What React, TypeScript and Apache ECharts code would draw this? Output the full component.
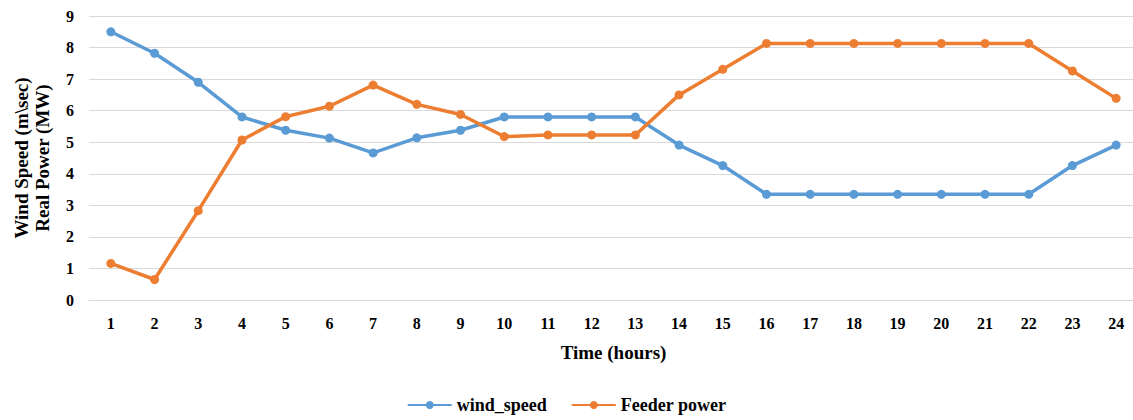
import React, { useEffect, useRef } from "react";
import * as echarts from "echarts";

const hours: string[] = [
  "1", "2", "3", "4", "5", "6", "7", "8", "9", "10", "11", "12",
  "13", "14", "15", "16", "17", "18", "19", "20", "21", "22", "23", "24",
];

const windSpeed: number[] = [
  8.5, 7.82, 6.9, 5.8, 5.38, 5.13, 4.66, 5.14, 5.38, 5.8, 5.8, 5.8,
  5.8, 4.91, 4.26, 3.35, 3.35, 3.35, 3.35, 3.35, 3.35, 3.35, 4.26, 4.91,
];

const feederPower: number[] = [
  1.16, 0.65, 2.83, 5.07, 5.81, 6.14, 6.81, 6.2, 5.88, 5.18, 5.23, 5.23,
  5.23, 6.5, 7.31, 8.13, 8.13, 8.13, 8.13, 8.13, 8.13, 8.13, 7.26, 6.39,
];

const yTicks: number[] = [0, 1, 2, 3, 4, 5, 6, 7, 8, 9];

const FONT = "'Liberation Serif', 'Times New Roman', serif";

export default function App() {
  const ref = useRef<HTMLDivElement>(null);

  useEffect(() => {
    if (!ref.current) return;
    const chart = echarts.init(ref.current, undefined, { renderer: "svg" });
    chart.setOption({
      animation: false,
      backgroundColor: "#ffffff",
      textStyle: { fontFamily: FONT },
      grid: {
        left: 89,
        right: -5,
        top: 16,
        bottom: 120,
        containLabel: false,
        outerBoundsMode: "none",
      },
      legend: {
        bottom: 1,
        left: "center",
        itemWidth: 44,
        itemHeight: 10,
        itemGap: 24,
        textStyle: { fontFamily: FONT, fontWeight: "bold", fontSize: 18, color: "#000" },
        data: ["wind_speed", "Feeder power"],
      },
      xAxis: {
        type: "category",
        data: hours,
        boundaryGap: true,
        name: "Time (hours)",
        nameLocation: "middle",
        nameGap: 43,
        nameTextStyle: { fontFamily: FONT, fontWeight: "bold", fontSize: 19, color: "#000" },
        axisLine: { show: true, lineStyle: { color: "#d9d9d9", width: 1 } },
        axisTick: { show: false },
        axisLabel: { fontFamily: FONT, fontWeight: "bold", fontSize: 16, color: "#000", margin: 15 },
      },
      yAxis: {
        type: "value",
        min: yTicks[0],
        max: yTicks[yTicks.length - 1],
        interval: 1,
        name: "Wind Speed (m\\sec)\nReal Power (MW)",
        nameLocation: "middle",
        nameRotate: 90,
        nameGap: 36,
        nameTextStyle: { fontFamily: FONT, fontWeight: "bold", fontSize: 19, color: "#000", lineHeight: 21 },
        axisLine: { show: false },
        axisTick: { show: false },
        axisLabel: { fontFamily: FONT, fontWeight: "bold", fontSize: 16, color: "#000", margin: 15 },
        splitLine: { lineStyle: { color: "#d9d9d9", width: 1 } },
      },
      series: [
        {
          name: "wind_speed",
          type: "line",
          data: windSpeed,
          symbol: "circle",
          symbolSize: 9,
          lineStyle: { color: "#5b9bd5", width: 3.5 },
          itemStyle: { color: "#5b9bd5" },
        },
        {
          name: "Feeder power",
          type: "line",
          data: feederPower,
          symbol: "circle",
          symbolSize: 9,
          lineStyle: { color: "#ed7d31", width: 3.5 },
          itemStyle: { color: "#ed7d31" },
        },
      ],
    });
    return () => chart.dispose();
  }, []);

  return (
    <div
      ref={ref}
      style={{ position: "fixed", left: 0, top: 0, width: 1133, height: 420, background: "#fff" }}
    />
  );
}
